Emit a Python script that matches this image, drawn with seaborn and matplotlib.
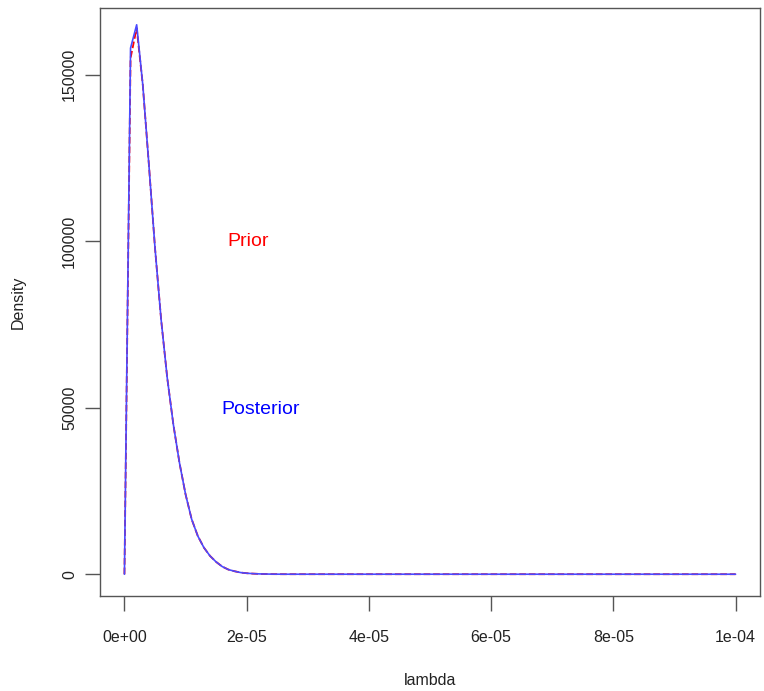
import matplotlib
matplotlib.use("Agg")
import matplotlib.pyplot as plt
import numpy as np
import pandas as pd
import seaborn as sns

# lambda grid, in units of 1e-6
lam_u = [0, 1, 2, 3, 4, 5, 6, 7, 8, 9, 10, 11, 12, 13, 14, 15, 16, 17, 18,
         19, 20, 21, 22, 23, 24, 25, 26, 100]
prior = [0, 155000, 164000, 147000, 123000, 98000, 76500, 59000, 45000, 33500,
         24000, 16500, 11500, 8000, 5500, 3700, 2300, 1400, 900, 500, 300,
         180, 100, 60, 30, 15, 5, 0]
posterior = [0, 158000, 165000, 147000, 123000, 98000, 76500, 59000, 45000, 33500,
             24000, 16500, 11500, 8000, 5500, 3700, 2300, 1400, 900, 500, 300,
             180, 100, 60, 30, 15, 5, 0]
xticks = [0, 2e-5, 4e-5, 6e-5, 8e-5, 1e-4]
xticklabels = ["0e+00", "2e-05", "4e-05", "6e-05", "8e-05", "1e-04"]
yticks = [0, 50000, 100000, 150000]

sns.set_style("ticks")
plt.rcParams["font.family"] = ["Liberation Sans", "DejaVu Sans"]

df = pd.DataFrame({"lambda": np.array(lam_u) * 1e-6, "prior": prior, "posterior": posterior})

fig = plt.figure(figsize=(7.64, 6.91), dpi=100)
ax = fig.add_axes([100 / 764, 1 - 596 / 691, 660 / 764, 588 / 691])

sns.lineplot(data=df, x="lambda", y="prior", ax=ax, color="red", linestyle="--",
             linewidth=1.3, estimator=None)
sns.lineplot(data=df, x="lambda", y="posterior", ax=ax, color="#4a4aff",
             linewidth=1.2, estimator=None)

ax.set_xlim(-4e-6, 1.04e-4)
ax.set_ylim(-6540, 170040)
ax.set_xticks(xticks)
ax.set_xticklabels(xticklabels)
ax.set_yticks(yticks)
ax.set_yticklabels([str(v) for v in yticks], rotation=90, va="center")

for s in ax.spines.values():
    s.set_color("#555555")
    s.set_linewidth(1.0)
ax.tick_params(axis="both", direction="out", length=10.5, width=1.0, color="#555555",
               labelsize=11.5, labelcolor="#222222")
ax.tick_params(axis="x", pad=14)
ax.tick_params(axis="y", pad=6)

ax.set_xlabel("lambda", fontsize=11.5, color="#222222", labelpad=20)
ax.set_ylabel("Density", fontsize=11.5, color="#222222", labelpad=26)

ax.text(2.02e-5, 1e5, "Prior", color="red", fontsize=14, ha="center", va="center")
ax.text(2.23e-5, 4.95e4, "Posterior", color="blue", fontsize=14, ha="center", va="center")

fig.savefig("out.png", dpi=100)
